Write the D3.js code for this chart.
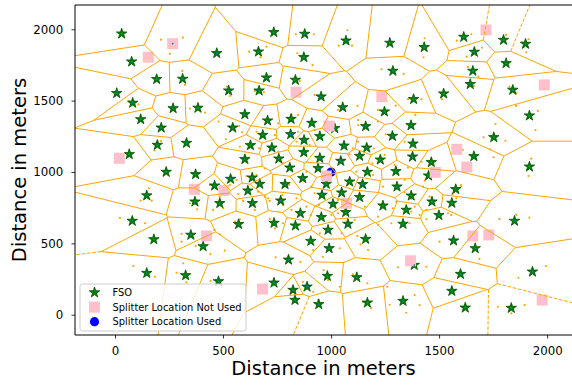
<!DOCTYPE html>
<html>
<head>
<meta charset="utf-8">
<script src="https://cdn.jsdelivr.net/npm/d3@7"></script>
<style>
  body { margin: 0; background: #fff; }
  text { font-family: "DejaVu Sans", sans-serif; }
</style>
</head>
<body>
<svg id="chart" width="572" height="386"></svg>
<script>
// FSO locations (meters) - also the voronoi generators
const fso = [
  [31,1969],[77,1773],[8,1552],[82,1484],[119,1369],[193,1650],[313,1652],[214,1310],[269,1446],[384,1449],
  [196,1189],[66,1124],[331,1203],[237,1000],[373,984],[147,835],[471,1832],[526,1570],[667,1570],[601,1404],
  [545,1310],[664,1843],[701,1661],[735,1979],[835,1645],[706,1360],[815,1371],[684,1259],[813,1264],[627,1187],
  [726,1170],[601,1089],[758,1093],[809,1030],[461,904],[535,951],[635,960],[670,916],[615,869],[787,914],
  [878,1967],[1069,1920],[1272,1904],[1431,1874],[1614,1946],[1798,1925],[1900,1897],[1663,1841],[874,1804],[1810,1762],
  [1286,1708],[1656,1708],[1644,1615],[1521,1549],[1841,1575],[954,1528],[1382,1510],[1054,1453],[1247,1423],[1918,1395],
  [911,1343],[1017,1306],[1160,1320],[1370,1327],[948,1250],[875,1224],[1060,1184],[1165,1170],[1284,1252],[1379,1198],
  [1753,1243],[874,1138],[948,1098],[1132,1112],[1045,1077],[1228,1086],[1377,1107],[1464,1068],[1661,1110],[1918,1037],
  [869,956],[940,1026],[1168,1000],[1300,1005],[1451,974],[1086,932],[1146,914],[1305,897],[1577,879],[958,839],
  [1049,855],[1132,823],[1371,834],[978,916],[370,792],[485,781],[636,781],[767,799],[572,634],[736,643],
  [835,624],[80,657],[180,528],[351,559],[408,479],[803,385],[147,292],[327,276],[479,234],[736,224],
  [824,173],[833,103],[858,711],[955,683],[1009,776],[1068,718],[1078,636],[986,594],[906,516],[991,465],
  [1160,530],[1240,764],[1348,734],[1333,636],[1467,792],[1559,783],[1499,697],[1567,519],[1667,465],[1849,657],
  [1385,348],[983,271],[1119,262],[1599,285],[1932,301],[889,196],[943,73],[1168,84],[1333,96],[1559,166],
  [1621,49],[1834,47]
];
// FSO hidden under a splitter square (only its generator dot shows)
const fsoHidden = [[267,1899]];

const splitNotUsed = [
  [267,1899],[154,1804],[20,1096],[367,879],[504,870],[424,552],[683,180],[838,1559],[991,1322],[978,972],
  [1071,781],[1235,1528],[1368,378],[1482,998],[1582,1159],[1628,1035],[1656,552],[1730,559],[1717,1995],[1987,1610],
  [1977,103]
];
const splitUsed = [[1000,1000]];

// users around the FSOs
const users = [
  [213,1927],[314,1941],[254,1827],[311,1708],[324,1610],[108,1474],[66,1498],[347,1445],[417,1416],[621,1843],
  [673,1804],[701,1878],[518,1599],[532,1533],[479,1353],[513,1229],[578,1177],[183,1152],[213,1217],[837,1965],
  [920,1965],[844,1832],[914,1750],[855,1638],[924,1540],[647,1568],[689,1559],[817,1400],[847,1400],
  [1076,1993],[1035,1885],[1097,1885],[1433,1937],[1428,1804],[1233,1720],[1336,1687],[1122,1463],[1032,1435],[1217,1435],
  [1299,1465],[1356,1510],[1418,1510],[1513,1510],[1390,1400],
  [1582,1920],[1649,1965],[1698,1871],[1628,1808],[1810,1960],[1884,1909],[1914,1930],[1903,1839],[1633,1736],[1682,1668],
  [1661,1603],[1826,1598],[1857,1552],[1857,1463],[1957,1428],
  [1761,1336],[1946,1294],[1706,1243],[1807,1219],[1610,1156],[1736,1159],[1752,1103],[1926,1093],[1914,972],[1601,909],
  [1561,846],[1779,671],[1857,699],[1918,680],
  [1895,68],[1772,56],[1834,10],[1995,341],[1867,259],[1687,392],[1502,512],[1541,711],[1410,68],[1387,138],
  [1348,14],[1309,332],[1441,336],[1271,70],[1186,45],[1148,91],[1168,220],[1260,196],[1101,283],[1040,196],
  [966,313],[986,243],[940,103],[870,231],[917,161],[858,371],[1171,453],[1122,552],[1136,493],[1040,465],
  [948,570],[917,453],[963,406],[944,769],[1032,711],[1049,570],[1217,687],[1279,641],[1363,641],[1302,792],
  [1387,757],[1410,699],[1441,669],[1556,699],[1459,776],[1579,816],[1602,897],
  [23,678],[139,641],[119,799],[170,799],[85,341],[185,266],[285,294],[316,360],[331,227],[442,238],
  [508,449],[373,481],[308,566],[308,512],[459,594],[485,563],[442,425],[380,739],[454,734],[578,669],
  [709,816],[740,605],[778,641],[743,402],[157,886],[347,781],
  [575,1322],[588,1278],[655,1282],[755,1341],[740,1259],[847,1282],[840,1212],[901,1189],[924,1294],[667,1166],
  [755,1142],[778,1061],[693,1026],[609,972],[655,979],[562,944],[532,909],[439,909],[570,846],[662,862],
  [693,827],[593,797],[716,797],[775,839],[840,816],[778,769],[817,734],[886,757],[906,699],[924,851],
  [806,909],[863,944],[886,1002],[909,897],[501,746],[647,734],[716,671],[555,652],[485,827],
  [1125,1364],[1125,1329],[1217,1353],[1340,1212],[1253,1264],[1198,1166],[1248,1119],[1191,1061],[1125,1212],[1101,1166],
  [1086,1124],[1117,1002],[1194,979],[1294,1049],[1356,1030],[1418,1072],[1433,939],[1340,944],[1240,897],[1340,858],
  [1425,897],[1441,734],[1371,722],[1286,746],[1156,757],[1032,804],[1002,699],[1109,664],[1217,629],[1456,827],
  [1371,811]
];

const xLim = [-185, 2115];
const yLim = [-142, 2170];
const xTicks = [0, 500, 1000, 1500, 2000];
const yTicks = [0, 500, 1000, 1500, 2000];

const W = 572, H = 386;
const margin = { top: 5, right: 0, bottom: 51, left: 75 };

const svg = d3.select('#chart');

const x = d3.scaleLinear().domain(xLim).range([margin.left, W - margin.right]);
const y = d3.scaleLinear().domain(yLim).range([H - margin.bottom, margin.top]);

svg.append('defs').append('clipPath').attr('id', 'plot-clip')
  .append('rect')
  .attr('x', margin.left).attr('y', margin.top)
  .attr('width', W - margin.right - margin.left)
  .attr('height', H - margin.bottom - margin.top);

const plot = svg.append('g').attr('clip-path', 'url(#plot-clip)');

// users
plot.append('g').selectAll('circle')
  .data(users)
  .join('circle')
  .attr('cx', d => x(d[0]))
  .attr('cy', d => y(d[1]))
  .attr('r', 1.1)
  .attr('fill', '#ffa500');

// FSO stars
const star = d3.symbol(d3.symbolStar, 34);
plot.append('g').selectAll('path')
  .data(fso)
  .join('path')
  .attr('transform', d => `translate(${x(d[0])},${y(d[1])})`)
  .attr('d', star)
  .attr('fill', '#008000')
  .attr('stroke', '#005200')
  .attr('stroke-width', 0.8);

plot.append('g').selectAll('circle')
  .data(splitUsed)
  .join('circle')
  .attr('cx', d => x(d[0]))
  .attr('cy', d => y(d[1]))
  .attr('r', 4.6)
  .attr('fill', '#0000ff');

plot.append('g').selectAll('rect')
  .data(splitNotUsed)
  .join('rect')
  .attr('x', d => x(d[0]) - 5.5)
  .attr('y', d => y(d[1]) - 5.5)
  .attr('width', 11)
  .attr('height', 11)
  .attr('fill', '#ffc0cb');

// voronoi of the FSOs, computed in meters
const gens = fso.concat(fsoHidden);
const B = 1e5;
const vor = d3.Delaunay.from(gens).voronoi([-B, -B, B, B]);
const onBound = p => Math.abs(Math.abs(p[0]) - B) < 1e-6 || Math.abs(Math.abs(p[1]) - B) < 1e-6;

const seen = new Set();
const edges = [];
gens.forEach((g, i) => {
  const poly = vor.cellPolygon(i);
  if (!poly) return;
  for (let k = 0; k < poly.length - 1; k++) {
    let a = poly[k], b = poly[k + 1];
    const ea = onBound(a), eb = onBound(b);
    if (ea && eb) continue;
    const key = [a, b].map(p => p[0].toFixed(2) + ',' + p[1].toFixed(2)).sort().join('|');
    if (seen.has(key)) continue;
    seen.add(key);
    if (ea) [a, b] = [b, a]; // finite end first
    edges.push({ a, b, dashed: ea || eb });
  }
});

// clip a segment to a box (Liang-Barsky), in meters
function clipSeg(a, b, x0, x1, y0, y1) {
  let t0 = 0, t1 = 1;
  const dx = b[0] - a[0], dy = b[1] - a[1];
  const p = [-dx, dx, -dy, dy];
  const q = [a[0] - x0, x1 - a[0], a[1] - y0, y1 - a[1]];
  for (let i = 0; i < 4; i++) {
    if (p[i] === 0) { if (q[i] < 0) return null; continue; }
    const r = q[i] / p[i];
    if (p[i] < 0) { if (r > t1) return null; if (r > t0) t0 = r; }
    else { if (r < t0) return null; if (r < t1) t1 = r; }
  }
  return [[a[0] + t0 * dx, a[1] + t0 * dy], [a[0] + t1 * dx, a[1] + t1 * dy]];
}

const segs = edges
  .map(e => ({ s: clipSeg(e.a, e.b, xLim[0] - 100, xLim[1] + 100, yLim[0] - 100, yLim[1] + 100), dashed: e.dashed }))
  .filter(e => e.s);

plot.append('g').selectAll('line')
  .data(segs)
  .join('line')
  .attr('x1', d => x(d.s[0][0]))
  .attr('y1', d => y(d.s[0][1]))
  .attr('x2', d => x(d.s[1][0]))
  .attr('y2', d => y(d.s[1][1]))
  .attr('stroke', '#ffa500')
  .attr('stroke-width', 1)
  .attr('stroke-dasharray', d => d.dashed ? '3.7,1.6' : null);

// generator points
plot.append('g').selectAll('circle')
  .data(gens)
  .join('circle')
  .attr('cx', d => x(d[0]))
  .attr('cy', d => y(d[1]))
  .attr('r', 0.9)
  .attr('fill', '#1f77b4');

// axes
const xAxis = svg.append('g')
  .attr('transform', `translate(0,${H - margin.bottom})`)
  .call(d3.axisBottom(x).tickValues(xTicks).tickFormat(d3.format('d')).tickSize(3.5).tickPadding(8));
const yAxis = svg.append('g')
  .attr('transform', `translate(${margin.left},0)`)
  .call(d3.axisLeft(y).tickValues(yTicks).tickFormat(d3.format('d')).tickSize(3.5).tickPadding(8.2));

[xAxis, yAxis].forEach(ax => {
  ax.select('.domain').remove();
  ax.selectAll('.tick line').attr('stroke', '#000').attr('stroke-width', 0.8);
  ax.selectAll('.tick text').attr('fill', '#000').style('font-size', '11.8px').style('font-family', '"DejaVu Sans", sans-serif');
});

// spines
const frame = svg.append('g').attr('stroke', '#000').attr('stroke-width', 1);
frame.append('line').attr('x1', margin.left).attr('x2', margin.left).attr('y1', margin.top).attr('y2', H - margin.bottom);
frame.append('line').attr('x1', margin.left).attr('x2', W).attr('y1', H - margin.bottom).attr('y2', H - margin.bottom);
frame.append('line').attr('x1', margin.left).attr('x2', W).attr('y1', margin.top).attr('y2', margin.top);

svg.append('text')
  .attr('x', (margin.left + W - margin.right) / 2)
  .attr('y', 375)
  .attr('text-anchor', 'middle')
  .style('font-size', '19.5px')
  .text('Distance in meters');

svg.append('text')
  .attr('transform', `translate(26,${(margin.top + H - margin.bottom) / 2}) rotate(-90)`)
  .attr('text-anchor', 'middle')
  .style('font-size', '19.5px')
  .text('Distance in meters');

// legend
const legend = svg.append('g').attr('transform', 'translate(80,284)');
legend.append('rect')
  .attr('width', 166).attr('height', 47).attr('rx', 2.5)
  .attr('fill', '#fff').attr('fill-opacity', 0.8)
  .attr('stroke', '#cccccc').attr('stroke-width', 1);

const legendItems = ['FSO', 'Splitter Location Not Used', 'Splitter Location Used'];
legendItems.forEach((label, i) => {
  const row = legend.append('g').attr('transform', `translate(14.5,${8.5 + i * 14.6})`);
  if (i === 0) {
    row.append('path').attr('d', star).attr('fill', '#008000').attr('stroke', '#005200').attr('stroke-width', 0.8);
  } else if (i === 1) {
    row.append('rect').attr('x', -5.5).attr('y', -5.5).attr('width', 11).attr('height', 11).attr('fill', '#ffc0cb');
  } else {
    row.append('circle').attr('r', 4.6).attr('fill', '#0000ff');
  }
  row.append('text')
    .attr('x', 18)
    .attr('dy', '0.35em')
    .style('font-size', '9.9px')
    .text(label);
});
</script>
</body>
</html>
